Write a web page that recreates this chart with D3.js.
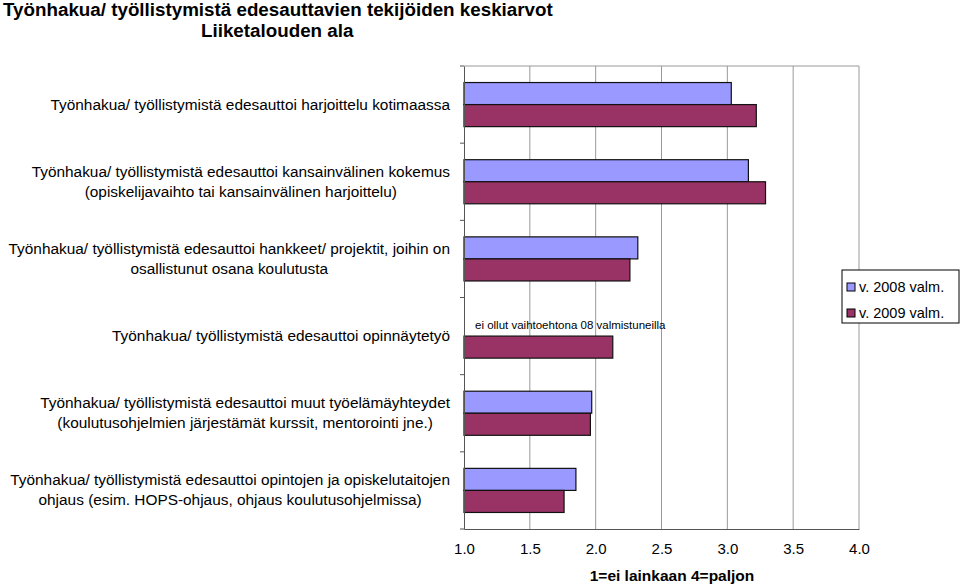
<!DOCTYPE html>
<html><head><meta charset="utf-8">
<script src="https://cdn.jsdelivr.net/npm/d3@7"></script>
<style>body{margin:0;background:#fff}text{font-family:"Liberation Sans",Arial,sans-serif}</style>
</head><body><svg id="chart" width="960" height="585"></svg>
<script>
const categories = [
  ["Työnhakua/ työllistymistä edesauttoi harjoittelu kotimaassa"],
  ["Työnhakua/ työllistymistä edesauttoi kansainvälinen kokemus", "(opiskelijavaihto tai kansainvälinen harjoittelu)"],
  ["Työnhakua/ työllistymistä edesauttoi hankkeet/ projektit, joihin on", "osallistunut osana koulutusta"],
  ["Työnhakua/ työllistymistä edesauttoi opinnäytetyö"],
  ["Työnhakua/ työllistymistä edesauttoi muut työelämäyhteydet", "(koulutusohjelmien järjestämät kurssit, mentorointi jne.)"],
  ["Työnhakua/ työllistymistä edesauttoi opintojen ja opiskelutaitojen", "ohjaus (esim. HOPS-ohjaus, ohjaus koulutusohjelmissa)"]
];
const v2008 = [3.03, 3.16, 2.32, null, 1.97, 1.85];
const v2009 = [3.22, 3.29, 2.26, 2.13, 1.96, 1.76];
const seriesNames = ["v. 2008 valm.", "v. 2009 valm."];
const colors = ["#9999ff", "#993366"];
const xTicks = [1.0, 1.5, 2.0, 2.5, 3.0, 3.5, 4.0];

const svg = d3.select("#chart");
const x = d3.scaleLinear().domain([1, 4]).range([464, 859]);
const y = d3.scaleBand().domain(d3.range(categories.length)).range([66, 529]);
const sub = d3.scaleBand().domain([0, 1]).range([0, y.bandwidth()]).paddingOuter(0.75).paddingInner(0);

// title
svg.append("text").attr("x", 3).attr("y", 16).attr("font-weight", "bold").attr("font-size", 18.8)
  .text("Työnhakua/ työllistymistä edesauttavien tekijöiden keskiarvot");
svg.append("text").attr("x", 201).attr("y", 37).attr("font-weight", "bold").attr("font-size", 18.8)
  .text("Liiketalouden ala");

// grid
svg.append("g").selectAll("line").data(xTicks.slice(1)).join("line")
  .attr("x1", d => x(d)).attr("x2", d => x(d)).attr("y1", 66).attr("y2", 529)
  .attr("stroke", "#999");
svg.append("line").attr("x1", x(1)).attr("x2", x(4)).attr("y1", 66).attr("y2", 66).attr("stroke", "#999");

// bars
[v2008, v2009].forEach((vals, s) => {
  svg.append("g").selectAll("rect").data(vals.map((v, i) => ({v, i})).filter(d => d.v != null)).join("rect")
    .attr("x", x(1)).attr("y", d => y(d.i) + sub(s))
    .attr("width", d => x(d.v) - x(1)).attr("height", sub.bandwidth())
    .attr("fill", colors[s]).attr("stroke", "#111").attr("stroke-width", 1.2);
});
svg.append("text").attr("x", 475).attr("y", y(3) + sub(0) + sub.bandwidth() / 2 + 4)
  .attr("font-size", 11.5).text("ei ollut vaihtoehtona 08 valmistuneilla");

// axes
const xa = svg.append("g").attr("transform", "translate(0,529)")
  .call(d3.axisBottom(x).tickValues(xTicks).tickFormat(d3.format(".1f")).tickSize(0).tickPadding(14));
xa.select(".domain").attr("stroke", "#555");
xa.selectAll("text").attr("font-size", 15).attr("fill", "#000");
const ya = svg.append("g").attr("transform", `translate(${x(1)},0)`)
  .call(d3.axisLeft(y).tickValues([]).tickSizeOuter(0));
ya.select(".domain").attr("stroke", "#555");
svg.append("g").selectAll("line").data(d3.range(categories.length + 1)).join("line")
  .attr("x1", x(1) - 4).attr("x2", x(1)).attr("y1", d => 66 + d * y.step()).attr("y2", d => 66 + d * y.step())
  .attr("stroke", "#555");

// category labels: each block centred, widest line ending at x=450
categories.forEach((lines, i) => {
  const cy = y(i) + y.bandwidth() / 2;
  const g = svg.append("g");
  const ts = lines.map((t, j) => g.append("text").attr("text-anchor", "middle").attr("font-size", 15.4)
    .attr("y", cy + 5 + (j - (lines.length - 1) / 2) * 20).text(t));
  const w = d3.max(ts, t => t.node().getComputedTextLength());
  ts.forEach(t => t.attr("x", 450 - w / 2));
});

svg.append("text").attr("x", 672).attr("y", 581).attr("text-anchor", "middle")
  .attr("font-weight", "bold").attr("font-size", 15.5).text("1=ei lainkaan 4=paljon");

// legend
const lg = svg.append("g");
lg.append("rect").attr("x", 842).attr("y", 270).attr("width", 117).attr("height", 53)
  .attr("fill", "#fff").attr("stroke", "#000");
seriesNames.forEach((n, i) => {
  lg.append("rect").attr("x", 847).attr("y", 283 + i * 26).attr("width", 8).attr("height", 8)
    .attr("fill", colors[i]).attr("stroke", "#000");
  lg.append("text").attr("x", 859).attr("y", 292 + i * 26).attr("font-size", 14.5).text(n);
});
</script></body></html>
